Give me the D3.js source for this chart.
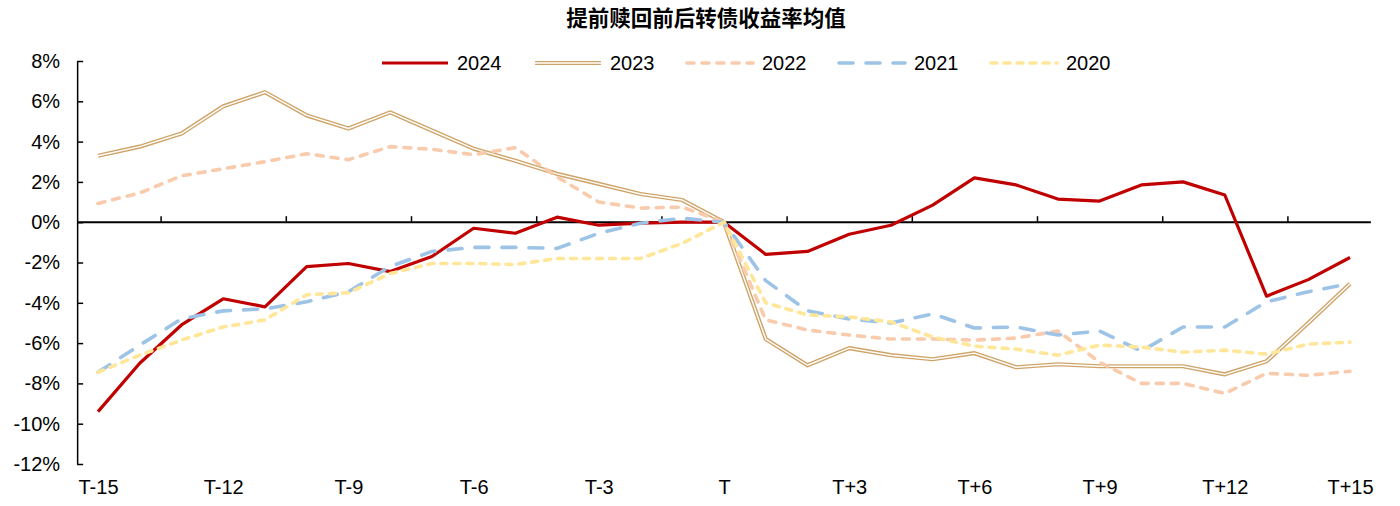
<!DOCTYPE html>
<html>
<head>
<meta charset="utf-8">
<script src="https://cdn.jsdelivr.net/npm/d3@7"></script>
<style>
  body { margin: 0; background: #fff; }
  text { font-family: "Liberation Sans", Arial, sans-serif; }
</style>
</head>
<body>
<div id="chart"></div>
<script>
// data, in %
const days = d3.range(-15, 16);
const labelDays = [-15, -12, -9, -6, -3, 0, 3, 6, 9, 12, 15];
const yTicks = [-12, -10, -8, -6, -4, -2, 0, 2, 4, 6, 8];

const s2024 = [-9.4, -7.0, -5.1, -3.8, -4.2, -2.2, -2.05, -2.45, -1.7, -0.3, -0.55, 0.25, -0.15, -0.05, 0.0, 0,
  -1.6, -1.45, -0.6, -0.15, 0.85, 2.2, 1.85, 1.15, 1.05, 1.85, 2.0, 1.35, -3.67, -2.85, -1.75];
const s2023 = [3.3, 3.75, 4.4, 5.75, 6.45, 5.3, 4.65, 5.45, 4.55, 3.65, 3.05, 2.4, 1.9, 1.4, 1.1, 0,
  -5.8, -7.1, -6.25, -6.6, -6.8, -6.5, -7.2, -7.05, -7.15, -7.15, -7.15, -7.55, -6.9, -5.0, -3.05];
const s2022 = [0.93, 1.45, 2.3, 2.65, 3.0, 3.4, 3.1, 3.75, 3.62, 3.35, 3.7, 2.25, 1.0, 0.7, 0.75, 0,
  -4.85, -5.35, -5.6, -5.8, -5.8, -5.85, -5.75, -5.4, -6.95, -8.0, -8.0, -8.5, -7.5, -7.6, -7.4];
const s2021 = [-7.45, -6.1, -4.8, -4.4, -4.3, -3.95, -3.45, -2.2, -1.45, -1.25, -1.25, -1.3, -0.55, -0.05, 0.2, 0,
  -2.9, -4.4, -4.8, -5.0, -4.55, -5.25, -5.2, -5.6, -5.4, -6.4, -5.2, -5.2, -3.95, -3.45, -3.05];
const s2020 = [-7.45, -6.6, -5.85, -5.2, -4.85, -3.6, -3.5, -2.55, -2.05, -2.05, -2.1, -1.8, -1.8, -1.8, -1.05, 0,
  -4.0, -4.6, -4.7, -4.95, -5.7, -6.15, -6.3, -6.6, -6.1, -6.2, -6.45, -6.35, -6.55, -6.05, -5.95];

const seriesNames = ["2024", "2023", "2022", "2021", "2020"];
const seriesValues = [s2024, s2023, s2022, s2021, s2020];

const styles = {
  "2024": { color: "#C00000", width: 3.2, dash: null },
  "2023": { color: "#CFA468", width: 4.2, dash: null, double: true },
  "2022": { color: "#F8CBAD", width: 3.6, dash: "7,8" },
  "2021": { color: "#9DC3E6", width: 3.6, dash: "14,13" },
  "2020": { color: "#FFE699", width: 3.6, dash: "6,7" }
};

const width = 1400;
const height = 506;

const svg = d3.select("#chart")
  .append("svg")
  .attr("width", width)
  .attr("height", height);

const x = d3.scaleLinear().domain([-15, 15]).range([98, 1350]);
const step = x(1) - x(0);
const y = d3.scaleLinear().domain([-12, 8]).range([464, 61]);

// title
svg.append("text")
  .attr("x", 706)
  .attr("y", 26)
  .attr("text-anchor", "middle")
  .style("font-family", "'Noto Sans CJK SC', sans-serif")
  .style("font-weight", "bold")
  .style("font-size", "21.5px")
  .text("提前赎回前后转债收益率均值");

// y axis
const yAxis = d3.axisLeft(y)
  .tickValues(yTicks)
  .tickSizeInner(-6)
  .tickSizeOuter(0)
  .tickPadding(17)
  .tickFormat(d => d + "%");

const yg = svg.append("g")
  .attr("transform", `translate(${x(-15) - step / 2}, 0)`)
  .call(yAxis);
yg.select(".domain").attr("stroke", "#000").attr("stroke-width", 1.5);
yg.selectAll(".tick line").attr("stroke", "#000").attr("stroke-width", 1.5);
yg.selectAll(".tick text")
  .attr("fill", "#000")
  .style("font-size", "20px")
  .style("font-family", "'Liberation Sans', Arial, sans-serif");

// zero line with boundary ticks
const xAxis = d3.axisBottom(x)
  .tickValues(d3.range(-13.5, 15, 3))
  .tickSizeInner(-6)
  .tickSizeOuter(0)
  .tickFormat("");

const xg = svg.append("g")
  .attr("transform", `translate(0, ${y(0)})`)
  .call(xAxis);
xg.select(".domain")
  .attr("d", `M${x(-15) - step / 2},0H${x(15) + step / 2}`)
  .attr("stroke", "#000")
  .attr("stroke-width", 2);
xg.selectAll(".tick line").attr("stroke", "#000").attr("stroke-width", 1.5);

// category labels at bottom
const labelAxis = d3.axisBottom(x)
  .tickValues(labelDays)
  .tickSize(0)
  .tickPadding(0)
  .tickFormat(d => d === 0 ? "T" : (d > 0 ? "T+" + d : "T" + d));

const lg = svg.append("g")
  .attr("transform", "translate(0, 480)")
  .call(labelAxis);
lg.select(".domain").remove();
lg.selectAll(".tick text")
  .attr("fill", "#000")
  .style("font-size", "20px")
  .style("font-family", "'Liberation Sans', Arial, sans-serif");

// lines
const line = d3.line()
  .x((d, i) => x(days[i]))
  .y(d => y(d));

seriesNames.forEach((name, k) => {
  const st = styles[name];
  const p = svg.append("path")
    .datum(seriesValues[k])
    .attr("fill", "none")
    .attr("stroke", st.color)
    .attr("stroke-width", st.width)
    .attr("stroke-linejoin", "round")
    .attr("d", line);
  if (st.dash) p.attr("stroke-dasharray", st.dash).attr("stroke-linecap", "round");
  if (st.double) {
    svg.append("path")
      .datum(seriesValues[k])
      .attr("fill", "none")
      .attr("stroke", "#fff")
      .attr("stroke-width", 1.4)
      .attr("stroke-linejoin", "round")
      .attr("d", line);
  }
});

// legend
const legendX = [380, 533, 685, 837, 989];
const legend = svg.append("g").attr("transform", "translate(0, 63)");
seriesNames.forEach((name, k) => {
  const st = styles[name];
  const g = legend.append("g").attr("transform", `translate(${legendX[k]}, 0)`);
  const l = g.append("line")
    .attr("x1", 2).attr("x2", 68)
    .attr("stroke", st.color)
    .attr("stroke-width", st.width);
  if (st.dash) l.attr("stroke-dasharray", st.dash).attr("stroke-linecap", "round");
  if (st.double) {
    g.append("line").attr("x1", 2).attr("x2", 68)
      .attr("stroke", "#fff").attr("stroke-width", 1.4);
  }
  g.append("text")
    .attr("x", 77)
    .attr("y", 7)
    .style("font-size", "20px")
    .text(name);
});
</script>
</body>
</html>
